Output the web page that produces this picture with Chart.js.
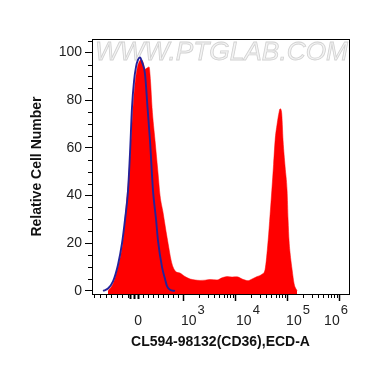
<!DOCTYPE html>
<html><head><meta charset="utf-8">
<script src="https://cdn.jsdelivr.net/npm/chart.js@4"></script>
<style>html,body{margin:0;padding:0;background:#fff}canvas{display:block}</style>
</head><body>
<canvas id="c" width="370" height="367"></canvas>
<script>
// x values are in display units of the biexponential axis (10^3 = 3, 10^4 = 4, ...; "0" sits at 2.135)
const sampleX = [1.558,1.654,1.75,1.846,1.904,1.962,2.0,2.038,2.077,2.115,2.154,2.192,2.231,2.269,2.308,2.346,2.375,2.404,2.462,2.519,2.558,2.615,2.673,2.712,2.769,2.808,2.865,2.942,3.038,3.135,3.231,3.327,3.423,3.519,3.654,3.75,3.846,3.942,4.038,4.135,4.25,4.327,4.423,4.519,4.577,4.635,4.673,4.706,4.74,4.769,4.808,4.846,4.865,4.894,4.923,4.962,5.0,5.019,5.038,5.067,5.096,5.135,5.192];
const sampleY = [0,3,10,21,35,49.5,63,77,87,93,96,97,96,93,93.5,94,88,77,63,49.5,40,33,25,20,13,10,8,7.5,6,5,4.6,4.4,4.5,4.8,4.6,5.5,6,5.8,5.9,5,4.3,5,6,7,9,21,32,42,53,63,70,75,76.4,75,63,52,42,30,21,14,9,3,0];
const isotypeX = [1.462,1.558,1.654,1.75,1.827,1.885,1.942,1.981,2.019,2.058,2.096,2.135,2.173,2.212,2.269,2.317,2.365,2.423,2.481,2.519,2.596,2.654,2.692,2.75,2.846];
const isotypeY = [0,1,4,11,20,30,42,58,77,88,94,97,98,96,91,77,63,42,30,21,10,5,2,0.5,0];
const yTicks = [0,20,40,60,80,100];
const xTickValues = [2.135,3,4,5,6];
const xTickBase = ['0','10','10','10','10'];
const xTickExp = ['','3','4','5','6'];
const xTitle = 'CL594-98132(CD36),ECD-A';
const yTitle = 'Relative Cell Number';
const watermark = 'WWW.PTGLAB.COM';

const FONT = 'Liberation Sans, Arial, sans-serif';

const deco = {
  id: 'deco',
  beforeDatasetsDraw(chart) {
    const ctx = chart.ctx, ca = chart.chartArea;
    ctx.save();
    ctx.font = 'italic 25px ' + FONT;
    const w = ctx.measureText(watermark).width;
    ctx.translate(ca.left + 3, ca.top + 21);
    ctx.scale(253 / w, 1);
    ctx.fillStyle = '#f4f4f4';
    ctx.strokeStyle = '#d2d2d2';
    ctx.lineWidth = 0.8;
    ctx.textBaseline = 'alphabetic';
    ctx.fillText(watermark, 0, 0);
    ctx.strokeText(watermark, 0, 0);
    ctx.restore();
  },
  afterDraw(chart) {
    const ctx = chart.ctx, ca = chart.chartArea;
    const xs = chart.scales.x, ys = chart.scales.y;
    ctx.save();
    ctx.strokeStyle = '#000';
    ctx.lineWidth = 1;
    ctx.strokeRect(ca.left + 0.5, ca.top + 0.5, ca.right - ca.left, ca.bottom - ca.top);
    // y minor ticks
    ctx.beginPath();
    for (let v = 5; v <= 105; v += 5) {
      if (v % 20 === 0) continue;
      const y = Math.round(ys.getPixelForValue(v)) + 0.5;
      ctx.moveTo(ca.left - 4, y); ctx.lineTo(ca.left, y);
    }
    ctx.stroke();
    // x ticks
    const b = ca.bottom + 1;
    const tick = (u, len, wdt) => {
      const x = Math.round(xs.getPixelForValue(u)) + 0.5;
      ctx.lineWidth = wdt;
      ctx.beginPath(); ctx.moveTo(x, b); ctx.lineTo(x, b + len); ctx.stroke();
    };
    [1.288,1.404,1.51,1.615,1.721,1.827,1.933,2.231,2.327,2.423,2.519,2.615,2.712,2.808,2.904].forEach(u => tick(u, 3, 1));
    [1.981,2.058,2.135].forEach(u => tick(u, 4, 2));
    for (let d = 3; d <= 5; d++) for (let k = 2; k <= 9; k++) tick(d + Math.log10(k), 3, 1);
    [3,4,5,6].forEach(u => tick(u, 6, 1.5));
    // x tick labels (with superscripts)
    const offs = [0, -2, 1, -1, -15];
    ctx.fillStyle = '#222';
    ctx.textBaseline = 'alphabetic';
    xTickValues.forEach((u, i) => {
      const px = xs.getPixelForValue(u);
      ctx.font = '14px ' + FONT;
      const bw = ctx.measureText(xTickBase[i]).width;
      let x0 = i === 0 ? px - bw / 2 : px + offs[i];
      ctx.textAlign = 'left';
      ctx.fillText(xTickBase[i], x0, 325);
      if (xTickExp[i]) {
        ctx.font = '13px ' + FONT;
        ctx.fillText(xTickExp[i], x0 + bw + 1, 314);
      }
    });
    ctx.restore();
  }
};

new Chart(document.getElementById('c'), {
  type: 'line',
  data: {
    datasets: [
      {
        label: 'Isotype control',
        data: isotypeX.map((x, i) => ({ x, y: isotypeY[i] })),
        borderColor: '#24229a', borderWidth: 1.9, pointRadius: 0, fill: false,
        cubicInterpolationMode: 'monotone', order: 0
      },
      {
        label: 'CD36',
        data: sampleX.map((x, i) => ({ x, y: sampleY[i] })),
        borderColor: '#ff0000', borderWidth: 0.5, backgroundColor: '#ff0000', fill: 'start', pointRadius: 0,
        cubicInterpolationMode: 'monotone', order: 1
      }
    ]
  },
  options: {
    responsive: false, animation: false,
    layout: { padding: { top: 39, right: 21, left: 0, bottom: 0 } },
    plugins: { legend: { display: false }, tooltip: { enabled: false } },
    scales: {
      x: {
        type: 'linear', min: 1.25, max: 6.19,
        grid: { display: false }, border: { display: false },
        ticks: { display: false },
        afterFit(s) { s.height = 73; },
        title: { display: true, text: xTitle, color: '#111', font: { family: FONT, size: 14, weight: 'bold' }, padding: { top: 0, bottom: 16.6 } }
      },
      y: {
        min: -1.3, max: 105.7,
        afterBuildTicks(s) { s.ticks = yTicks.map(v => ({ value: v })); },
        ticks: { font: { family: FONT, size: 14 }, color: '#222', padding: 3, callback: v => String(v) },
        grid: { drawOnChartArea: false, drawTicks: true, tickLength: 7, color: '#000', tickColor: '#000' },
        border: { display: false },
        afterFit(s) { s.width = 92; },
        title: { display: true, text: yTitle, color: '#111', font: { family: FONT, size: 14, weight: 'bold' }, padding: { top: 28.6, bottom: 0 } }
      }
    }
  },
  plugins: [deco]
});
</script>
</body></html>
